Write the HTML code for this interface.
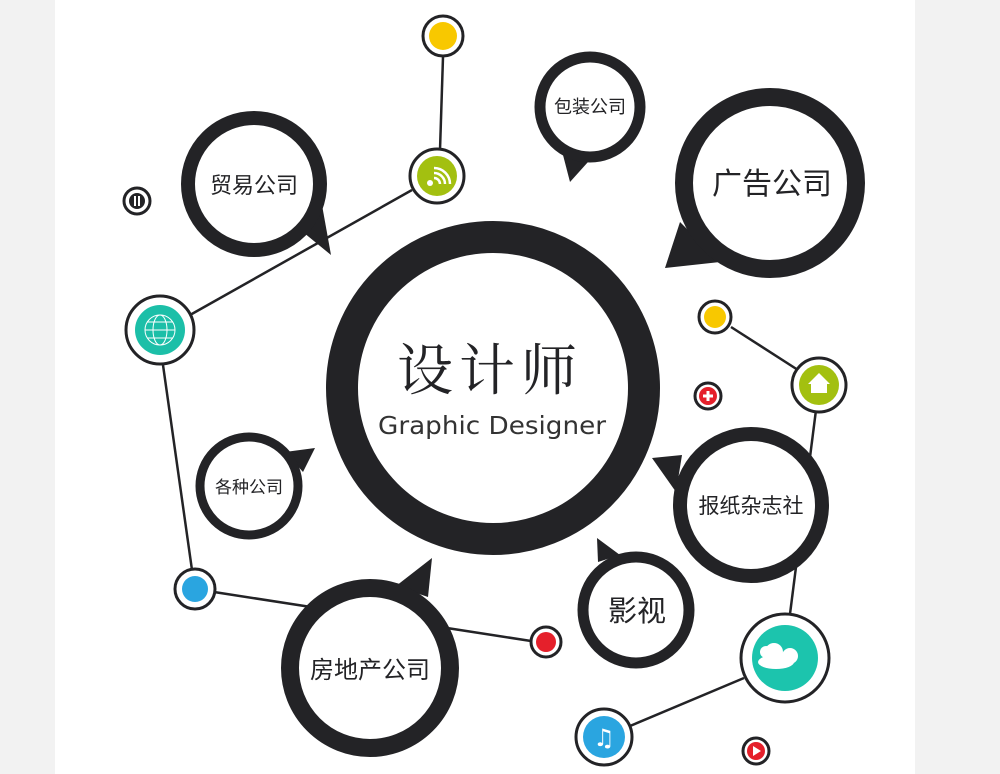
<!DOCTYPE html>
<html><head><meta charset="utf-8"><style>
html,body{margin:0;padding:0;background:#f2f2f2;}
svg{display:block}
</style></head><body>
<svg width="1000" height="774" viewBox="0 0 1000 774" xmlns="http://www.w3.org/2000/svg">
<rect x="0" y="0" width="1000" height="774" fill="#f2f2f2"/>
<rect x="55" y="0" width="860" height="774" fill="#ffffff"/>
<g stroke="#232326" stroke-width="2.5" fill="none">
<line x1="443" y1="57" x2="440" y2="150"/>
<line x1="412" y1="190" x2="190" y2="315"/>
<line x1="163" y1="365" x2="192" y2="570"/>
<line x1="214" y1="592" x2="531" y2="641"/>
<line x1="731" y1="327" x2="798" y2="370"/>
<line x1="816" y1="410" x2="790" y2="614"/>
<line x1="744" y1="678" x2="630" y2="726"/>
</g>
<g fill="#232326">
<circle cx="493" cy="388" r="151" fill="none" stroke="#232326" stroke-width="32"/>
<polygon points="298,228 322,205 331,255"/>
<circle cx="254" cy="184" r="66" fill="#fff" stroke="#232326" stroke-width="14"/>
<polygon points="563,155 588,162 570,182"/>
<circle cx="590" cy="107" r="50" fill="#fff" stroke="#232326" stroke-width="11"/>
<polygon points="680,222 720,262 665,268"/>
<circle cx="770" cy="183" r="86" fill="#fff" stroke="#232326" stroke-width="18"/>
<polygon points="285,452 303,472 315,448"/>
<circle cx="249" cy="486" r="49" fill="#fff" stroke="#232326" stroke-width="9"/>
<polygon points="682,455 676,492 652,458"/>
<circle cx="751" cy="505" r="71" fill="#fff" stroke="#232326" stroke-width="14"/>
<polygon points="598,562 620,555 597,538"/>
<circle cx="636" cy="610" r="53" fill="#fff" stroke="#232326" stroke-width="11"/>
<polygon points="396,586 428,597 432,558"/>
<circle cx="370" cy="668" r="80" fill="#fff" stroke="#232326" stroke-width="18"/>
</g>
<g stroke="#232326" stroke-width="3" fill="#fff">
<circle cx="443" cy="36" r="20"/>
<circle cx="437" cy="176" r="27"/>
<circle cx="160" cy="330" r="34"/>
<circle cx="137" cy="201" r="13"/>
<circle cx="195" cy="589" r="20"/>
<circle cx="546" cy="642" r="15"/>
<circle cx="715" cy="317" r="16"/>
<circle cx="819" cy="385" r="27"/>
<circle cx="708" cy="396" r="13"/>
<circle cx="785" cy="658" r="44"/>
<circle cx="604" cy="737" r="28"/>
<circle cx="756" cy="751" r="13"/>
</g>
<circle cx="443" cy="36" r="14" fill="#f8c800"/>
<circle cx="437" cy="176" r="20" fill="#a3c010"/>
<circle cx="160" cy="330" r="25" fill="#1cbfa8"/>
<circle cx="137" cy="201" r="8" fill="#232326"/>
<rect x="134" y="196" width="2" height="10" fill="#fff"/><rect x="138" y="196" width="2" height="10" fill="#fff"/>
<circle cx="195" cy="589" r="13" fill="#2aa5e0"/>
<circle cx="546" cy="642" r="10" fill="#e5202b"/>
<circle cx="715" cy="317" r="11" fill="#f8c800"/>
<circle cx="819" cy="385" r="20" fill="#a3c010"/>
<circle cx="708" cy="396" r="9" fill="#e5202b"/>
<circle cx="785" cy="658" r="33" fill="#1cc4ad"/>
<circle cx="604" cy="737" r="21" fill="#2aa5e0"/>
<circle cx="756" cy="751" r="9" fill="#e5202b"/>
<g fill="#fff">
<rect x="703" y="394.5" width="10" height="3"/><rect x="706.5" y="391" width="3" height="10"/>
<polygon points="753,746 753,756 761,751"/>
<polygon points="819,373 808,384 811,384 811,393 827,393 827,384 830,384"/>
<circle cx="430" cy="183" r="3"/>
<ellipse cx="776" cy="662" rx="18" ry="7"/><circle cx="774" cy="652" r="9"/><circle cx="790" cy="656" r="8"/><circle cx="766" cy="652" r="6"/>
<text x="604" y="746" font-family="DejaVu Sans,sans-serif" font-size="24" text-anchor="middle">♫</text>
</g>
<path d="M434,178 a6,6 0 0 1 6,6 M434,173 a11,11 0 0 1 11,11 M434,168 a16,16 0 0 1 16,16" stroke="#fff" stroke-width="2.5" fill="none"/>
<g stroke="#fff" stroke-width="1" fill="none">
<circle cx="160" cy="330" r="15"/><ellipse cx="160" cy="330" rx="7" ry="15"/><line x1="145" y1="330" x2="175" y2="330"/><line x1="147" y1="322" x2="173" y2="322"/><line x1="147" y1="338" x2="173" y2="338"/>
</g>
<g font-family="'Liberation Sans','Noto Sans CJK SC',sans-serif" fill="#232326" text-anchor="middle">
<text x="254" y="193" font-size="22">贸易公司</text>
<text x="590" y="113" font-size="18">包装公司</text>
<text x="772" y="194" font-size="30">广告公司</text>
<text x="249" y="493" font-size="17">各种公司</text>
<text x="751" y="513" font-size="21">报纸杂志社</text>
<text x="637" y="621" font-size="29">影视</text>
<text x="370" y="678" font-size="24">房地产公司</text>
<text x="490" y="390" font-size="56" font-family="'Noto Serif CJK SC',serif" letter-spacing="6">设计师</text>
<text x="492" y="434" font-size="25" font-family="'DejaVu Sans','Liberation Sans',sans-serif" textLength="228" lengthAdjust="spacingAndGlyphs" fill="#333">Graphic Designer</text>
</g>
</svg>
</body></html>
